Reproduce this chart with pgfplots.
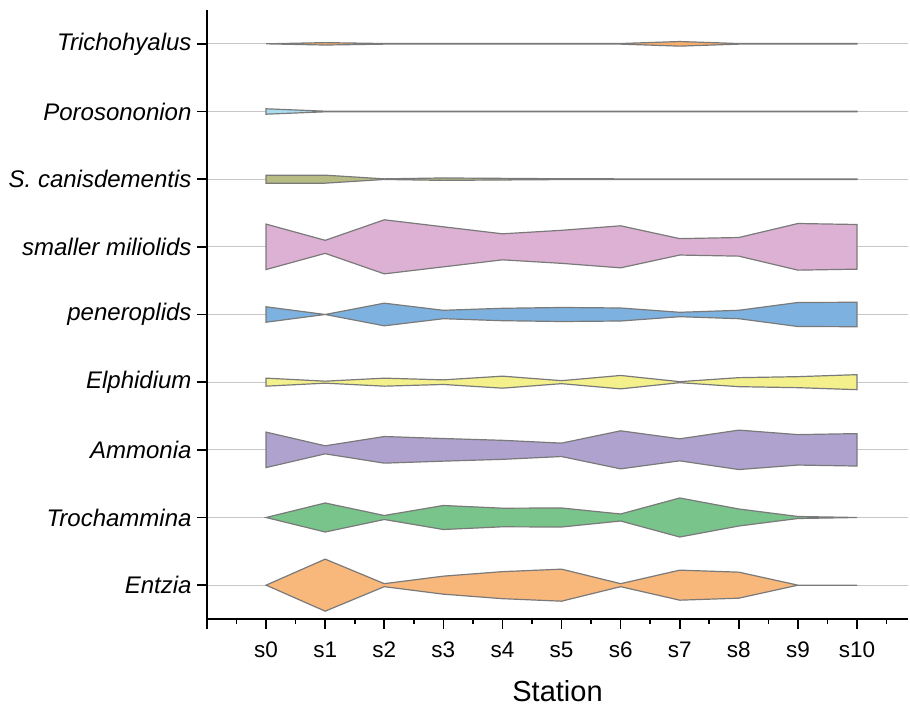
\documentclass[border=0pt]{standalone}
\usepackage{fontspec}
\setmainfont{Liberation Sans}
\usepackage{pgfplots}
\pgfplotsset{compat=1.18}
\usepgfplotslibrary{fillbetween}
\usepackage{pgfplotstable}

\definecolor{edge}{HTML}{7A7A7A}
\definecolor{cEn}{HTML}{F8B77B}
\definecolor{cTr}{HTML}{79C48A}
\definecolor{cAm}{HTML}{B0A2CE}
\definecolor{cEl}{HTML}{F4F08C}
\definecolor{cPe}{HTML}{7DB2E0}
\definecolor{cMi}{HTML}{DDB1D3}
\definecolor{cSc}{HTML}{B6BC84}
\definecolor{cPo}{HTML}{A8DCF0}
\definecolor{cTh}{HTML}{F8AE6C}

% half-widths of each kite (in pixels of the reference)
\pgfplotstableread{
x  En   Tr   Am   El   Pe   Mi   Sc   Po   Th
0  0    0    17.7 4.0  7.7  22.7 4.0  2.7  0
1  26   14.5 4.0  1.0  0    6.5  4.0  0.3  1.2
2  1.5  2.0  13.3 4.0  11.3 27   0.3  0.3  0.3
3  9    12   11.3 2.3  4.2  20   1.2  0.3  0.3
4  13.5 9.3  9.5  6.0  6.2  13   0.8  0.3  0.3
5  16   9.5  6.7  1.5  7.0  16.5 0.4  0.3  0.3
6  1.5  3.5  19   6.7  6.5  21   0.3  0.3  0.3
7  15   19.5 11   0.5  2.2  8.2  0.3  0.3  2.3
8  13   8.5  19.7 4.5  4.2  9.3  0.3  0.3  0.3
9  0    1.0  15.2 5.5  12   23.3 0.3  0.3  0.3
10 0    0    16.2 7.5  12.2 22.3 0.3  0.3  0.3
}\kitedata

\newcommand\kite[3]{% column, centre, colour
  \addplot[draw=none, name path=#1U] table[x=x, y expr=#2+\thisrow{#1}/67.6] {\kitedata};
  \addplot[draw=none, name path=#1L] table[x=x, y expr=#2-\thisrow{#1}/67.6] {\kitedata};
  \addplot[fill=#3, draw=edge, line width=1.2pt] fill between[of=#1U and #1L];
}

\begin{document}
\begin{tikzpicture}
\begin{axis}[
  at={(0pt,0pt)}, anchor=south west,
  scale only axis, width=701pt, height=609pt,
  xmin=-1, xmax=10.863, ymin=-0.5, ymax=8.5,
  axis lines=left,
  axis line style={-, line width=1.8pt, black},
  y axis line style={shorten <=-10pt},
  xtick={0,...,10},
  xticklabels={s0,s1,s2,s3,s4,s5,s6,s7,s8,s9,s10},
  minor xtick={-0.5,0.5,...,10.5},
  ytick={0,...,8},
  yticklabels={Entzia,Trochammina,Ammonia,Elphidium,peneroplids,smaller miliolids,S. canisdementis,Porosononion,Trichohyalus},
  tick align=outside,
  major tick length=10pt, minor tick length=5pt,
  tick style={black, line width=1.6pt},
  ymajorgrids,
  y grid style={line width=1.1pt, color=black!22},
  x tick label style={font=\fontsize{22.5}{26}\selectfont, yshift=-9pt},
  y tick label style={font=\fontsize{24}{28}\selectfont\itshape, xshift=-2pt},
  xlabel={Station},
  xlabel style={font=\fontsize{29}{33}\selectfont, yshift=-16pt},
  clip=false,
]
\kite{En}{0}{cEn}
\kite{Tr}{1}{cTr}
\kite{Am}{2}{cAm}
\kite{El}{3}{cEl}
\kite{Pe}{4}{cPe}
\kite{Mi}{5}{cMi}
\kite{Sc}{6}{cSc}
\kite{Po}{7}{cPo}
\kite{Th}{8}{cTh}
\end{axis}
\pgfresetboundingbox
\useasboundingbox (-207pt,-88pt) rectangle (703pt,619pt);
\end{tikzpicture}
\end{document}
